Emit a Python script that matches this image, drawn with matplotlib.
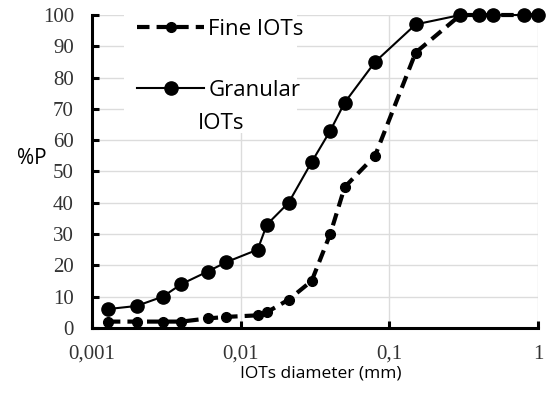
import matplotlib
matplotlib.use("Agg")
import matplotlib.pyplot as plt
from matplotlib.patches import Rectangle
from matplotlib.ticker import FixedLocator, FixedFormatter

# diámetros (mm) y % que pasa
diametro = [0.00128, 0.002, 0.003, 0.004, 0.006, 0.008, 0.013, 0.015, 0.021,
            0.03, 0.04, 0.05, 0.08, 0.15, 0.3, 0.4, 0.5, 0.8, 1.0]
fine_iots = [2, 2, 2, 2, 3, 3.5, 4, 5, 9, 15, 30, 45, 55, 88, 100, 100, 100, 100, 100]
granular_iots = [6, 7, 10, 14, 18, 21, 25, 33, 40, 53, 63, 72, 85, 97, 100, 100, 100, 100, 100]

xticks = [0.001, 0.01, 0.1, 1]
xtick_labels = ["0,001", "0,01", "0,1", "1"]
yticks = list(range(0, 101, 10))

fig = plt.figure(figsize=(5.47, 3.95), dpi=100)
ax = fig.add_axes([0.168, 0.170, 0.816, 0.792])

ax.plot(diametro, fine_iots, color="black", lw=3, ls=(0, (3, 1.7)),
        marker="o", ms=7, label="Fine IOTs", zorder=3, clip_on=False)
ax.plot(diametro, granular_iots, color="black", lw=1.5, ls="-",
        marker="o", ms=9.5, label="Granular", zorder=3, clip_on=False)

ax.set_xscale("log")
ax.set_xlim(0.001, 1)
ax.set_ylim(0, 100)
ax.xaxis.set_major_locator(FixedLocator(xticks))
ax.xaxis.set_major_formatter(FixedFormatter(xtick_labels))
ax.xaxis.set_minor_locator(FixedLocator([]))
ax.set_yticks(yticks)

ax.grid(True, color="#dcdcdc", lw=1, zorder=0)
ax.set_axisbelow(True)

for s in ["top", "right"]:
    ax.spines[s].set_visible(False)
for s in ["left", "bottom"]:
    ax.spines[s].set_linewidth(2.2)

ax.tick_params(direction="in", length=5, width=2.2)
for lab in ax.get_xticklabels() + ax.get_yticklabels():
    lab.set_fontfamily("Liberation Serif")
    lab.set_fontsize(15)
    lab.set_color("#333333")
ax.tick_params(axis="y", pad=13)
ax.tick_params(axis="x", pad=12)

ax.set_xlabel("IOTs diameter (mm)", fontsize=12.5, family="Open Sans")
ax.xaxis.set_label_coords(0.513, -0.12)
fig.text(0.031, 0.6, "%P", fontsize=15, family="Open Sans", va="center")

# fondo blanco de la leyenda (tapa la grilla como en el original)
ax.add_patch(Rectangle((0.072, 0.623), 0.388, 0.377, transform=ax.transAxes,
                       facecolor="white", edgecolor="none", zorder=1))

leg = ax.legend(loc="upper left", bbox_to_anchor=(0.062, 1.045), frameon=False,
                prop={"family": "Open Sans", "size": 16}, labelspacing=1.8,
                handlelength=3.0, handletextpad=0.2, borderpad=0.3)
leg.set_zorder(5)
ax.text(0.238, 0.652, "IOTs", transform=ax.transAxes, fontsize=16,
        family="Open Sans", va="center", zorder=6)

fig.savefig("out.png", dpi=100)
